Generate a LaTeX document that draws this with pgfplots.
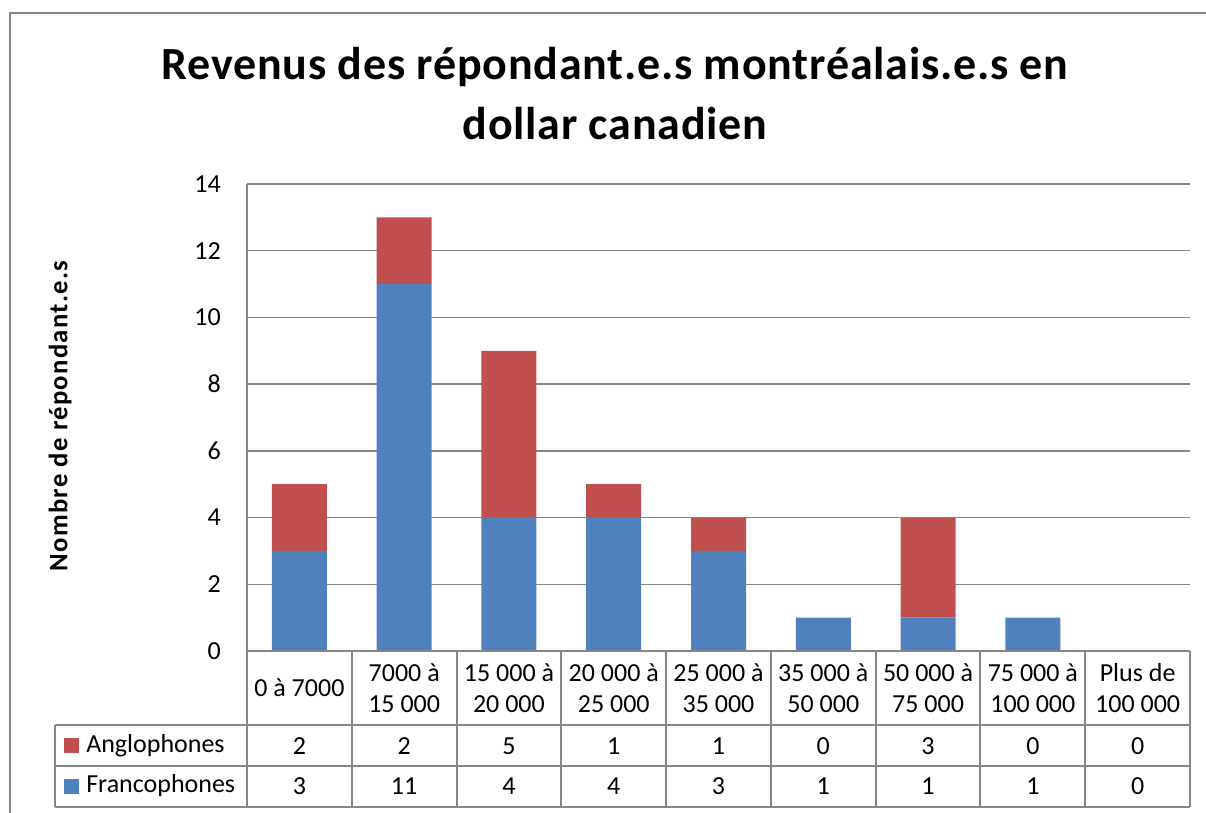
\documentclass[border=0pt]{standalone}
\usepackage{fontspec}
\setmainfont{Carlito}
\usepackage{pgfplots}
\usepackage{pgfplotstable}
\pgfplotsset{compat=1.18}
\definecolor{franco}{HTML}{4F81BD}
\definecolor{anglo}{HTML}{C0504D}
\definecolor{gridc}{HTML}{868686}
\pgfplotstableread{
x F A
0 3 2
1 11 2
2 4 5
3 4 1
4 3 1
5 1 0
6 1 3
7 1 0
8 0 0
}\data
\begin{document}
\begin{tikzpicture}
\begin{axis}[at={(185.25pt,121.5pt)}, anchor=south west, scale only axis,
  width=707.25pt, height=350.25pt,
  ybar stacked, bar width=41.25pt,
  xmin=-0.5, xmax=8.5, ymin=0, ymax=14, ytick={0,2,...,14},
  xtick={0,...,8},
  xticklabels={{0 à 7000},{7000 à\\15 000},{15 000 à\\20 000},{20 000 à\\25 000},{25 000 à\\35 000},{35 000 à\\50 000},{50 000 à\\75 000},{75 000 à\\100 000},{Plus de\\100 000}},
  ymajorgrids, grid style={gridc, line width=1.1pt},
  axis line style={draw=none}, major tick length=0pt, tick style={draw=none},
  ticklabel style={font=\fontsize{19.5}{23.25}\selectfont},
  yticklabel style={anchor=east, inner sep=0pt, xshift=-19.5pt},
  xticklabel style={anchor=center, align=center, inner sep=0pt, yshift=-27.75pt},
  /pgf/number format/assume math mode=true,
  clip=false]
\addplot[fill=franco, draw=none] table[x=x,y=F]{\data};
\addplot[fill=anglo, draw=none] table[x=x,y=A]{\data};
\end{axis}
\begin{scope}[x=0.75pt,y=0.75pt]
\path[use as bounding box] (0,0) rectangle (1206,813);
\draw[gridc, line width=1.3pt] (10,0) -- (10,800) -- (1206,800);
\node[font=\fontsize{34.5}{40}\selectfont\bfseries\addfontfeature{LetterSpace=1.7}, anchor=base, inner sep=0pt] at (615,733) {Revenus des répondant.e.s montréalais.e.s en};
\node[font=\fontsize{34.5}{40}\selectfont\bfseries\addfontfeature{LetterSpace=1.7}, anchor=base, inner sep=0pt] at (615,673) {dollar canadien};
\node[rotate=90, font=\fontsize{20}{22}\selectfont\bfseries\addfontfeature{LetterSpace=4.8}, inner sep=0pt] at (60,397) {Nombre de répondant.e.s};
\draw[gridc, line width=1.1pt] (247,162) -- (247,629);
\begin{scope}[gridc, line width=1.5pt]
\draw (247,161.5) -- (1190,161.5);
\draw (55,88) -- (1190,88);
\draw (55,47) -- (1190,47);
\draw (55,6.3) -- (1190,6.3);
\draw (55,88) -- (55,6.3);
\foreach \k in {0,...,9} {\draw ({247+104.78*\k},161.5) -- ({247+104.78*\k},6.3);}
\end{scope}
\fill[anglo] (64,60.3) rectangle (79,75.3);
\fill[franco] (64,19) rectangle (79,34);
\node[anchor=west, inner sep=0pt, font=\fontsize{19.5}{23.25}\selectfont] at (86,67) {Anglophones};
\node[anchor=west, inner sep=0pt, font=\fontsize{19.5}{23.25}\selectfont] at (86,27) {Francophones};
\foreach \i in {0,...,8} {
  \pgfplotstablegetelem{\i}{A}\of\data
  \node[font=\fontsize{19.5}{23.25}\selectfont] at ({247+104.78*(\i+0.5)},67) {\pgfplotsretval};
  \pgfplotstablegetelem{\i}{F}\of\data
  \node[font=\fontsize{19.5}{23.25}\selectfont] at ({247+104.78*(\i+0.5)},27) {\pgfplotsretval};
}
\end{scope}
\end{tikzpicture}
\end{document}
